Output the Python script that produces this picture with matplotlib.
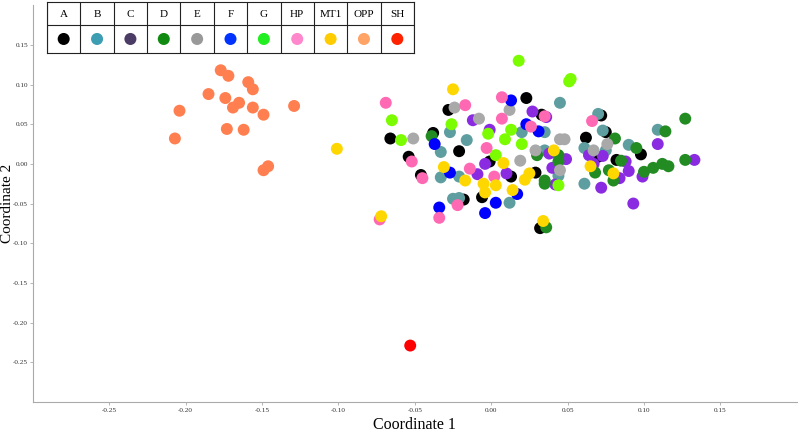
import numpy as np
import matplotlib
matplotlib.use('Agg')
import matplotlib.pyplot as plt

plt.rcParams['font.family'] = ['Liberation Serif', 'DejaVu Serif']

# Group names and colours (plot colours and legend-box colours differ slightly)
groups = ['A', 'B', 'C', 'D', 'E', 'F', 'G', 'HP', 'MT1', 'OPP', 'SH']
plot_colors = ['#000000', '#5f9ea0', '#8a2be2', '#228b22', '#a9a9a9', '#0000ff',
               '#7cfc00', '#ff69b4', '#ffd700', '#ff7f50', '#ff0000']
legend_colors = ['#000000', '#3d9db3', '#4b3c66', '#118a11', '#999999', '#0033ff',
                 '#22ee22', '#ff88cc', '#ffcc00', '#ffa366', '#ff2200']

# Coordinates (Coordinate 1, Coordinate 2)
A_x = [-0.028, -0.038, -0.066, -0.021, -0.001, -0.054, -0.046, -0.006, -0.018, 0.023,
       0.033, 0.072, 0.075, 0.062, 0.029, 0.013, 0.032, 0.070, 0.082, 0.098]
A_y = [0.068, 0.039, 0.032, 0.016, 0.003, 0.009, -0.014, -0.042, -0.045, 0.083,
       0.062, 0.061, 0.040, 0.033, -0.011, -0.016, -0.081, 0.009, 0.005, 0.012]

B_x = [-0.027, -0.033, -0.016, -0.033, -0.021, -0.025, -0.021, 0.045, 0.020, 0.035,
       0.070, 0.073, 0.035, 0.044, 0.012, 0.061, 0.075, 0.061, 0.090, 0.109]
B_y = [0.040, 0.015, 0.030, -0.017, -0.016, -0.044, -0.043, 0.077, 0.040, 0.040,
       0.063, 0.042, 0.017, -0.015, -0.049, 0.020, 0.017, -0.025, 0.024, 0.043]

C_x = [-0.012, -0.001, -0.004, -0.009, 0.027, 0.036, 0.038, 0.049, 0.040, 0.042, 0.010,
       0.064, 0.073, 0.067, 0.090, 0.072, 0.093, 0.109, 0.088, 0.099, 0.133, 0.084]
C_y = [0.055, 0.043, 0.000, -0.013, 0.066, 0.059, 0.013, 0.006, -0.005, -0.026, -0.012,
       0.011, 0.010, 0.000, -0.009, -0.030, -0.050, 0.025, 0.003, -0.016, 0.005, -0.018]

D_x = [-0.039, 0.081, 0.030, 0.044, 0.044, 0.035, 0.035, 0.036, 0.068, 0.085,
       0.077, 0.080, 0.095, 0.127, 0.114, 0.100, 0.106, 0.112, 0.116, 0.127]
D_y = [0.035, 0.032, 0.011, 0.011, 0.003, -0.021, -0.025, -0.080, -0.011, 0.004,
       -0.008, -0.021, 0.020, 0.057, 0.041, -0.010, -0.005, 0.000, -0.003, 0.005]

E_x = [-0.024, -0.008, -0.051, 0.012, 0.045, 0.048, 0.029, 0.045, 0.019, 0.067, 0.076]
E_y = [0.071, 0.057, 0.032, 0.068, 0.031, 0.031, 0.017, -0.008, 0.004, 0.017, 0.025]

F_x = [-0.037, -0.027, -0.034, -0.004, 0.003, 0.013, 0.023, 0.031, 0.017]
F_y = [0.025, -0.011, -0.055, -0.062, -0.049, 0.080, 0.050, 0.041, -0.038]

G_x = [-0.065, -0.026, -0.059, -0.002, 0.003, 0.018, 0.051, 0.052, 0.013, 0.009, 0.020, 0.044]
G_y = [0.055, 0.050, 0.030, 0.038, 0.011, 0.130, 0.104, 0.107, 0.043, 0.031, 0.025, -0.027]

HP_x = [-0.069, -0.017, 0.007, 0.007, -0.003, -0.052, -0.045, -0.014, 0.002, -0.022,
        -0.034, -0.073, 0.035, 0.026, 0.066]
HP_y = [0.077, 0.074, 0.084, 0.057, 0.020, 0.003, -0.018, -0.006, -0.016, -0.052,
        -0.068, -0.070, 0.060, 0.047, 0.054]

MT1_x = [-0.025, -0.101, -0.031, -0.017, -0.005, -0.004, 0.003, -0.072, 0.041, 0.025,
         0.022, 0.008, 0.014, 0.034, 0.065, 0.080]
MT1_y = [0.094, 0.019, -0.004, -0.021, -0.025, -0.036, -0.027, -0.066, 0.017, -0.012,
         -0.020, 0.001, -0.033, -0.072, -0.003, -0.012]

OPP_x = [-0.177, -0.172, -0.159, -0.156, -0.185, -0.174, -0.204, -0.165, -0.169, -0.156,
         -0.149, -0.129, -0.173, -0.162, -0.207, -0.149, -0.146]
OPP_y = [0.118, 0.111, 0.103, 0.094, 0.088, 0.083, 0.067, 0.077, 0.071, 0.071,
         0.062, 0.073, 0.044, 0.043, 0.032, -0.008, -0.003]

SH_x = [-0.053]
SH_y = [-0.229]

xs = [A_x, B_x, C_x, D_x, E_x, F_x, G_x, HP_x, MT1_x, OPP_x, SH_x]
ys = [A_y, B_y, C_y, D_y, E_y, F_y, G_y, HP_y, MT1_y, OPP_y, SH_y]

x_ticks = [-0.25, -0.20, -0.15, -0.10, -0.05, 0.00, 0.05, 0.10, 0.15]
y_ticks = [-0.25, -0.20, -0.15, -0.10, -0.05, 0.00, 0.05, 0.10, 0.15]

fig = plt.figure(figsize=(8, 4.34), dpi=100)
ax = fig.add_axes([0.041, 0.074, 0.955, 0.914])

for gx, gy, col in zip(xs, ys, plot_colors):
    ax.scatter(gx, gy, s=74, color=col, edgecolors='none', zorder=3)

ax.set_xlim(-0.30, 0.20)
ax.set_ylim(-0.30, 0.20)
ax.set_xticks(x_ticks)
ax.set_yticks(y_ticks)
ax.set_xticklabels(['%.2f' % t for t in x_ticks])
ax.set_yticklabels(['%.2f' % t for t in y_ticks])
ax.tick_params(labelsize=5.2, labelcolor='#333333', length=2, width=0.6,
               color='#aaaaaa', pad=2.5)
ax.tick_params(axis='y', pad=1.5)

ax.spines['right'].set_visible(False)
ax.spines['top'].set_visible(False)
ax.spines['left'].set_color('#aaaaaa')
ax.spines['bottom'].set_color('#aaaaaa')

ax.set_xlabel('Coordinate 1', fontsize=11.5)
ax.set_ylabel('Coordinate 2', fontsize=11)
ax.xaxis.set_label_coords(0.5, -0.038)
ax.yaxis.set_label_coords(-0.0245, 0.5)

# Legend box drawn as a small two-row table
lax = fig.add_axes([47 / 800, (434 - 53) / 434, 367 / 800, 51 / 434])
n = len(groups)
lax.set_xlim(0, n)
lax.set_ylim(0, 2)
for i, (name, col) in enumerate(zip(groups, legend_colors)):
    lax.text(i + 0.5, 1.5, name, ha='center', va='center', fontsize=8)
    lax.scatter([i + 0.5], [0.55], s=75, color=col, edgecolors='none')
for i in range(n + 1):
    lax.axvline(i, color='#222222', lw=0.8)
lax.axhline(1.08, color='#222222', lw=0.8)
lax.set_xticks([])
lax.set_yticks([])
for sp in lax.spines.values():
    sp.set_color('#222222')
    sp.set_linewidth(0.8)

plt.savefig('out.png', dpi=100)
